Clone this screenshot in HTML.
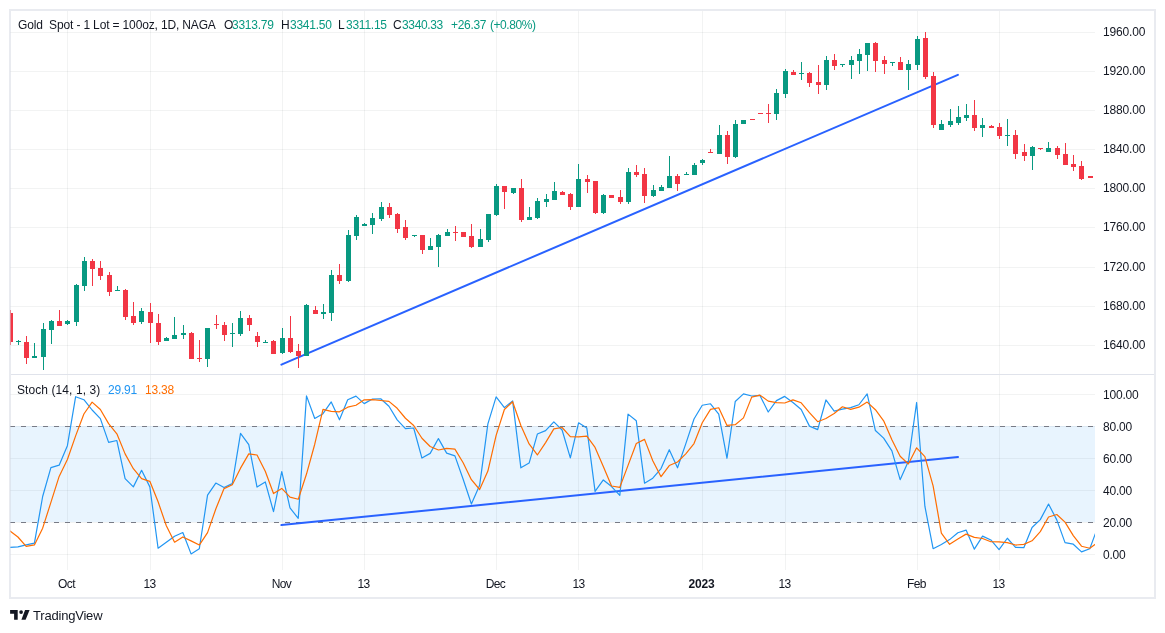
<!DOCTYPE html>
<html><head><meta charset="utf-8"><style>
html,body{margin:0;padding:0;background:#fff;}
body{width:1165px;height:633px;position:relative;overflow:hidden;font-family:"Liberation Sans",sans-serif;}
div{will-change:transform;}
</style></head><body>
<svg width="1165" height="633" viewBox="0 0 1165 633" style="position:absolute;left:0;top:0">
<defs><clipPath id="cm"><rect x="10" y="11" width="1085" height="363"/></clipPath><clipPath id="cs"><rect x="10" y="375" width="1085" height="195"/></clipPath></defs>
<g shape-rendering="crispEdges"><rect x="10" y="426" width="1085" height="96" fill="#2196F3" fill-opacity="0.1"/><rect x="10" y="32" width="1085" height="1" fill="#2A2E39" fill-opacity="0.06"/><rect x="10" y="71" width="1085" height="1" fill="#2A2E39" fill-opacity="0.06"/><rect x="10" y="110" width="1085" height="1" fill="#2A2E39" fill-opacity="0.06"/><rect x="10" y="149" width="1085" height="1" fill="#2A2E39" fill-opacity="0.06"/><rect x="10" y="188" width="1085" height="1" fill="#2A2E39" fill-opacity="0.06"/><rect x="10" y="227" width="1085" height="1" fill="#2A2E39" fill-opacity="0.06"/><rect x="10" y="267" width="1085" height="1" fill="#2A2E39" fill-opacity="0.06"/><rect x="10" y="306" width="1085" height="1" fill="#2A2E39" fill-opacity="0.06"/><rect x="10" y="345" width="1085" height="1" fill="#2A2E39" fill-opacity="0.06"/><rect x="67" y="11" width="1" height="363" fill="#2A2E39" fill-opacity="0.06"/><rect x="67" y="375" width="1" height="195" fill="#2A2E39" fill-opacity="0.06"/><rect x="150" y="11" width="1" height="363" fill="#2A2E39" fill-opacity="0.06"/><rect x="150" y="375" width="1" height="195" fill="#2A2E39" fill-opacity="0.06"/><rect x="282" y="11" width="1" height="363" fill="#2A2E39" fill-opacity="0.06"/><rect x="282" y="375" width="1" height="195" fill="#2A2E39" fill-opacity="0.06"/><rect x="364" y="11" width="1" height="363" fill="#2A2E39" fill-opacity="0.06"/><rect x="364" y="375" width="1" height="195" fill="#2A2E39" fill-opacity="0.06"/><rect x="496" y="11" width="1" height="363" fill="#2A2E39" fill-opacity="0.06"/><rect x="496" y="375" width="1" height="195" fill="#2A2E39" fill-opacity="0.06"/><rect x="578" y="11" width="1" height="363" fill="#2A2E39" fill-opacity="0.06"/><rect x="578" y="375" width="1" height="195" fill="#2A2E39" fill-opacity="0.06"/><rect x="702" y="11" width="1" height="363" fill="#2A2E39" fill-opacity="0.06"/><rect x="702" y="375" width="1" height="195" fill="#2A2E39" fill-opacity="0.06"/><rect x="785" y="11" width="1" height="363" fill="#2A2E39" fill-opacity="0.06"/><rect x="785" y="375" width="1" height="195" fill="#2A2E39" fill-opacity="0.06"/><rect x="917" y="11" width="1" height="363" fill="#2A2E39" fill-opacity="0.06"/><rect x="917" y="375" width="1" height="195" fill="#2A2E39" fill-opacity="0.06"/><rect x="999" y="11" width="1" height="363" fill="#2A2E39" fill-opacity="0.06"/><rect x="999" y="375" width="1" height="195" fill="#2A2E39" fill-opacity="0.06"/><rect x="10" y="394" width="1085" height="1" fill="#2A2E39" fill-opacity="0.06"/><rect x="10" y="426" width="1085" height="1" fill="#2A2E39" fill-opacity="0.06"/><rect x="10" y="458" width="1085" height="1" fill="#2A2E39" fill-opacity="0.06"/><rect x="10" y="490" width="1085" height="1" fill="#2A2E39" fill-opacity="0.06"/><rect x="10" y="522" width="1085" height="1" fill="#2A2E39" fill-opacity="0.06"/><rect x="10" y="554" width="1085" height="1" fill="#2A2E39" fill-opacity="0.06"/></g>
<g shape-rendering="crispEdges" stroke="#787B86" stroke-width="1" stroke-dasharray="5 6"><line x1="10" y1="426.5" x2="1095" y2="426.5"/><line x1="10" y1="522.5" x2="1095" y2="522.5"/></g>
<g stroke="#2962FF" stroke-width="2" stroke-linecap="round"><line x1="281.4" y1="364.6" x2="957.9" y2="74.8" clip-path="url(#cm)"/><line x1="281.4" y1="525.1" x2="958.0" y2="457.05"/></g>
<g clip-path="url(#cm)" shape-rendering="crispEdges"><rect x="10" y="310" width="1" height="35" fill="#F23645"/><rect x="8" y="313" width="5" height="29" fill="#F23645"/><rect x="18" y="340" width="1" height="5" fill="#089981"/><rect x="16" y="341" width="5" height="1" fill="#089981"/><rect x="26" y="336" width="1" height="28" fill="#F23645"/><rect x="24" y="342" width="5" height="16" fill="#F23645"/><rect x="34" y="343" width="1" height="15" fill="#089981"/><rect x="32" y="356" width="5" height="2" fill="#089981"/><rect x="43" y="323" width="1" height="47" fill="#089981"/><rect x="41" y="329" width="5" height="28" fill="#089981"/><rect x="51" y="320" width="1" height="24" fill="#089981"/><rect x="49" y="321" width="5" height="9" fill="#089981"/><rect x="59" y="310" width="1" height="16" fill="#F23645"/><rect x="57" y="321" width="5" height="5" fill="#F23645"/><rect x="67" y="320" width="1" height="5" fill="#089981"/><rect x="65" y="321" width="5" height="3" fill="#089981"/><rect x="76" y="284" width="1" height="42" fill="#089981"/><rect x="74" y="285" width="5" height="37" fill="#089981"/><rect x="84" y="257" width="1" height="34" fill="#089981"/><rect x="82" y="261" width="5" height="25" fill="#089981"/><rect x="92" y="259" width="1" height="27" fill="#F23645"/><rect x="90" y="261" width="5" height="8" fill="#F23645"/><rect x="100" y="261" width="1" height="19" fill="#F23645"/><rect x="98" y="268" width="5" height="8" fill="#F23645"/><rect x="109" y="272" width="1" height="24" fill="#F23645"/><rect x="107" y="275" width="5" height="17" fill="#F23645"/><rect x="117" y="286" width="1" height="5" fill="#089981"/><rect x="115" y="290" width="5" height="1" fill="#089981"/><rect x="125" y="289" width="1" height="31" fill="#F23645"/><rect x="123" y="290" width="5" height="27" fill="#F23645"/><rect x="133" y="302" width="1" height="23" fill="#F23645"/><rect x="131" y="316" width="5" height="7" fill="#F23645"/><rect x="141" y="308" width="1" height="16" fill="#089981"/><rect x="139" y="311" width="5" height="11" fill="#089981"/><rect x="150" y="303" width="1" height="40" fill="#F23645"/><rect x="148" y="312" width="5" height="11" fill="#F23645"/><rect x="158" y="314" width="1" height="31" fill="#F23645"/><rect x="156" y="323" width="5" height="19" fill="#F23645"/><rect x="166" y="337" width="1" height="4" fill="#089981"/><rect x="164" y="338" width="5" height="3" fill="#089981"/><rect x="174" y="317" width="1" height="22" fill="#089981"/><rect x="172" y="335" width="5" height="4" fill="#089981"/><rect x="183" y="325" width="1" height="14" fill="#089981"/><rect x="181" y="333" width="5" height="2" fill="#089981"/><rect x="191" y="332" width="1" height="27" fill="#F23645"/><rect x="189" y="333" width="5" height="26" fill="#F23645"/><rect x="199" y="340" width="1" height="22" fill="#F23645"/><rect x="197" y="358" width="5" height="1" fill="#F23645"/><rect x="207" y="328" width="1" height="39" fill="#089981"/><rect x="205" y="328" width="5" height="31" fill="#089981"/><rect x="216" y="315" width="1" height="14" fill="#F23645"/><rect x="214" y="324" width="5" height="1" fill="#F23645"/><rect x="224" y="322" width="1" height="19" fill="#F23645"/><rect x="222" y="325" width="5" height="10" fill="#F23645"/><rect x="232" y="323" width="1" height="24" fill="#089981"/><rect x="230" y="333" width="5" height="1" fill="#089981"/><rect x="240" y="311" width="1" height="25" fill="#089981"/><rect x="238" y="318" width="5" height="16" fill="#089981"/><rect x="249" y="315" width="1" height="16" fill="#F23645"/><rect x="247" y="318" width="5" height="7" fill="#F23645"/><rect x="257" y="332" width="1" height="15" fill="#F23645"/><rect x="255" y="336" width="5" height="6" fill="#F23645"/><rect x="265" y="340" width="1" height="3" fill="#089981"/><rect x="263" y="342" width="5" height="1" fill="#089981"/><rect x="273" y="340" width="1" height="14" fill="#F23645"/><rect x="271" y="341" width="5" height="13" fill="#F23645"/><rect x="282" y="328" width="1" height="26" fill="#089981"/><rect x="280" y="338" width="5" height="15" fill="#089981"/><rect x="290" y="316" width="1" height="37" fill="#F23645"/><rect x="288" y="338" width="5" height="14" fill="#F23645"/><rect x="298" y="344" width="1" height="24" fill="#F23645"/><rect x="296" y="351" width="5" height="5" fill="#F23645"/><rect x="306" y="304" width="1" height="52" fill="#089981"/><rect x="304" y="305" width="5" height="51" fill="#089981"/><rect x="315" y="306" width="1" height="8" fill="#F23645"/><rect x="313" y="310" width="5" height="4" fill="#F23645"/><rect x="323" y="304" width="1" height="15" fill="#089981"/><rect x="321" y="312" width="5" height="2" fill="#089981"/><rect x="331" y="270" width="1" height="51" fill="#089981"/><rect x="329" y="275" width="5" height="38" fill="#089981"/><rect x="339" y="264" width="1" height="20" fill="#F23645"/><rect x="337" y="275" width="5" height="6" fill="#F23645"/><rect x="348" y="230" width="1" height="52" fill="#089981"/><rect x="346" y="235" width="5" height="46" fill="#089981"/><rect x="356" y="215" width="1" height="25" fill="#089981"/><rect x="354" y="217" width="5" height="19" fill="#089981"/><rect x="364" y="223" width="1" height="3" fill="#089981"/><rect x="362" y="224" width="5" height="2" fill="#089981"/><rect x="372" y="213" width="1" height="21" fill="#089981"/><rect x="370" y="218" width="5" height="7" fill="#089981"/><rect x="381" y="202" width="1" height="19" fill="#089981"/><rect x="379" y="207" width="5" height="12" fill="#089981"/><rect x="389" y="203" width="1" height="15" fill="#F23645"/><rect x="387" y="207" width="5" height="8" fill="#F23645"/><rect x="397" y="213" width="1" height="20" fill="#F23645"/><rect x="395" y="214" width="5" height="15" fill="#F23645"/><rect x="405" y="220" width="1" height="20" fill="#F23645"/><rect x="403" y="227" width="5" height="11" fill="#F23645"/><rect x="414" y="235" width="1" height="2" fill="#089981"/><rect x="412" y="235" width="5" height="1" fill="#089981"/><rect x="422" y="235" width="1" height="19" fill="#F23645"/><rect x="420" y="235" width="5" height="15" fill="#F23645"/><rect x="430" y="238" width="1" height="12" fill="#089981"/><rect x="428" y="246" width="5" height="4" fill="#089981"/><rect x="438" y="234" width="1" height="33" fill="#089981"/><rect x="436" y="235" width="5" height="12" fill="#089981"/><rect x="447" y="229" width="1" height="7" fill="#089981"/><rect x="445" y="232" width="5" height="4" fill="#089981"/><rect x="455" y="226" width="1" height="15" fill="#F23645"/><rect x="453" y="232" width="5" height="1" fill="#F23645"/><rect x="463" y="232" width="1" height="5" fill="#F23645"/><rect x="461" y="232" width="5" height="5" fill="#F23645"/><rect x="471" y="224" width="1" height="24" fill="#F23645"/><rect x="469" y="236" width="5" height="11" fill="#F23645"/><rect x="480" y="229" width="1" height="18" fill="#089981"/><rect x="478" y="239" width="5" height="8" fill="#089981"/><rect x="488" y="214" width="1" height="28" fill="#089981"/><rect x="486" y="214" width="5" height="26" fill="#089981"/><rect x="496" y="184" width="1" height="32" fill="#089981"/><rect x="494" y="186" width="5" height="29" fill="#089981"/><rect x="504" y="186" width="1" height="23" fill="#F23645"/><rect x="502" y="186" width="5" height="6" fill="#F23645"/><rect x="513" y="188" width="1" height="6" fill="#089981"/><rect x="511" y="188" width="5" height="5" fill="#089981"/><rect x="521" y="179" width="1" height="43" fill="#F23645"/><rect x="519" y="188" width="5" height="32" fill="#F23645"/><rect x="529" y="207" width="1" height="13" fill="#089981"/><rect x="527" y="217" width="5" height="3" fill="#089981"/><rect x="537" y="198" width="1" height="21" fill="#089981"/><rect x="535" y="201" width="5" height="17" fill="#089981"/><rect x="546" y="194" width="1" height="13" fill="#089981"/><rect x="544" y="199" width="5" height="3" fill="#089981"/><rect x="554" y="182" width="1" height="18" fill="#089981"/><rect x="552" y="191" width="5" height="9" fill="#089981"/><rect x="562" y="191" width="1" height="4" fill="#F23645"/><rect x="560" y="192" width="5" height="3" fill="#F23645"/><rect x="570" y="193" width="1" height="17" fill="#F23645"/><rect x="568" y="194" width="5" height="13" fill="#F23645"/><rect x="578" y="164" width="1" height="43" fill="#089981"/><rect x="576" y="179" width="5" height="28" fill="#089981"/><rect x="587" y="175" width="1" height="18" fill="#F23645"/><rect x="585" y="179" width="5" height="3" fill="#F23645"/><rect x="595" y="181" width="1" height="33" fill="#F23645"/><rect x="593" y="181" width="5" height="32" fill="#F23645"/><rect x="603" y="194" width="1" height="20" fill="#089981"/><rect x="601" y="195" width="5" height="18" fill="#089981"/><rect x="611" y="195" width="1" height="3" fill="#F23645"/><rect x="609" y="195" width="5" height="3" fill="#F23645"/><rect x="620" y="190" width="1" height="14" fill="#F23645"/><rect x="618" y="197" width="5" height="5" fill="#F23645"/><rect x="628" y="168" width="1" height="36" fill="#089981"/><rect x="626" y="172" width="5" height="30" fill="#089981"/><rect x="636" y="165" width="1" height="12" fill="#F23645"/><rect x="634" y="172" width="5" height="3" fill="#F23645"/><rect x="644" y="168" width="1" height="35" fill="#F23645"/><rect x="642" y="174" width="5" height="22" fill="#F23645"/><rect x="653" y="185" width="1" height="12" fill="#089981"/><rect x="651" y="190" width="5" height="6" fill="#089981"/><rect x="661" y="185" width="1" height="6" fill="#089981"/><rect x="659" y="187" width="5" height="4" fill="#089981"/><rect x="669" y="156" width="1" height="32" fill="#089981"/><rect x="667" y="176" width="5" height="12" fill="#089981"/><rect x="677" y="174" width="1" height="17" fill="#F23645"/><rect x="675" y="176" width="5" height="8" fill="#F23645"/><rect x="686" y="172" width="1" height="3" fill="#089981"/><rect x="684" y="174" width="5" height="1" fill="#089981"/><rect x="694" y="163" width="1" height="12" fill="#089981"/><rect x="692" y="165" width="5" height="10" fill="#089981"/><rect x="702" y="159" width="1" height="6" fill="#089981"/><rect x="700" y="160" width="5" height="3" fill="#089981"/><rect x="710" y="149" width="1" height="4" fill="#F23645"/><rect x="708" y="152" width="5" height="1" fill="#F23645"/><rect x="719" y="125" width="1" height="29" fill="#089981"/><rect x="717" y="135" width="5" height="19" fill="#089981"/><rect x="727" y="131" width="1" height="33" fill="#F23645"/><rect x="725" y="135" width="5" height="22" fill="#F23645"/><rect x="735" y="120" width="1" height="38" fill="#089981"/><rect x="733" y="124" width="5" height="33" fill="#089981"/><rect x="743" y="120" width="1" height="4" fill="#089981"/><rect x="741" y="120" width="5" height="4" fill="#089981"/><rect x="752" y="119" width="1" height="1" fill="#F23645"/><rect x="750" y="119" width="5" height="1" fill="#F23645"/><rect x="760" y="113" width="1" height="1" fill="#F23645"/><rect x="758" y="113" width="5" height="1" fill="#F23645"/><rect x="768" y="104" width="1" height="19" fill="#F23645"/><rect x="766" y="113" width="5" height="1" fill="#F23645"/><rect x="776" y="89" width="1" height="31" fill="#089981"/><rect x="774" y="93" width="5" height="21" fill="#089981"/><rect x="785" y="69" width="1" height="29" fill="#089981"/><rect x="783" y="71" width="5" height="23" fill="#089981"/><rect x="793" y="70" width="1" height="5" fill="#F23645"/><rect x="791" y="72" width="5" height="3" fill="#F23645"/><rect x="801" y="62" width="1" height="18" fill="#089981"/><rect x="799" y="73" width="5" height="1" fill="#089981"/><rect x="809" y="72" width="1" height="15" fill="#F23645"/><rect x="807" y="73" width="5" height="10" fill="#F23645"/><rect x="818" y="65" width="1" height="29" fill="#F23645"/><rect x="816" y="82" width="5" height="3" fill="#F23645"/><rect x="826" y="56" width="1" height="34" fill="#089981"/><rect x="824" y="60" width="5" height="25" fill="#089981"/><rect x="834" y="54" width="1" height="16" fill="#F23645"/><rect x="832" y="60" width="5" height="6" fill="#F23645"/><rect x="842" y="64" width="1" height="3" fill="#089981"/><rect x="840" y="64" width="5" height="1" fill="#089981"/><rect x="851" y="56" width="1" height="23" fill="#089981"/><rect x="849" y="60" width="5" height="5" fill="#089981"/><rect x="859" y="49" width="1" height="25" fill="#089981"/><rect x="857" y="54" width="5" height="7" fill="#089981"/><rect x="867" y="43" width="1" height="28" fill="#089981"/><rect x="865" y="43" width="5" height="12" fill="#089981"/><rect x="875" y="42" width="1" height="30" fill="#F23645"/><rect x="873" y="43" width="5" height="18" fill="#F23645"/><rect x="884" y="56" width="1" height="18" fill="#F23645"/><rect x="882" y="60" width="5" height="4" fill="#F23645"/><rect x="892" y="62" width="1" height="4" fill="#089981"/><rect x="890" y="62" width="5" height="1" fill="#089981"/><rect x="900" y="57" width="1" height="13" fill="#F23645"/><rect x="898" y="62" width="5" height="8" fill="#F23645"/><rect x="908" y="60" width="1" height="30" fill="#089981"/><rect x="906" y="64" width="5" height="6" fill="#089981"/><rect x="917" y="36" width="1" height="34" fill="#089981"/><rect x="915" y="39" width="5" height="26" fill="#089981"/><rect x="925" y="32" width="1" height="47" fill="#F23645"/><rect x="923" y="38" width="5" height="39" fill="#F23645"/><rect x="933" y="72" width="1" height="56" fill="#F23645"/><rect x="931" y="76" width="5" height="49" fill="#F23645"/><rect x="941" y="120" width="1" height="10" fill="#089981"/><rect x="939" y="124" width="5" height="6" fill="#089981"/><rect x="950" y="109" width="1" height="18" fill="#089981"/><rect x="948" y="121" width="5" height="4" fill="#089981"/><rect x="958" y="106" width="1" height="19" fill="#089981"/><rect x="956" y="117" width="5" height="6" fill="#089981"/><rect x="966" y="104" width="1" height="17" fill="#089981"/><rect x="964" y="115" width="5" height="3" fill="#089981"/><rect x="974" y="100" width="1" height="31" fill="#F23645"/><rect x="972" y="115" width="5" height="13" fill="#F23645"/><rect x="982" y="118" width="1" height="19" fill="#089981"/><rect x="980" y="125" width="5" height="3" fill="#089981"/><rect x="991" y="125" width="1" height="3" fill="#F23645"/><rect x="989" y="126" width="5" height="2" fill="#F23645"/><rect x="999" y="123" width="1" height="16" fill="#F23645"/><rect x="997" y="127" width="5" height="9" fill="#F23645"/><rect x="1007" y="119" width="1" height="27" fill="#089981"/><rect x="1005" y="135" width="5" height="1" fill="#089981"/><rect x="1015" y="130" width="1" height="29" fill="#F23645"/><rect x="1013" y="135" width="5" height="19" fill="#F23645"/><rect x="1024" y="144" width="1" height="17" fill="#F23645"/><rect x="1022" y="152" width="5" height="4" fill="#F23645"/><rect x="1032" y="146" width="1" height="24" fill="#089981"/><rect x="1030" y="147" width="5" height="9" fill="#089981"/><rect x="1040" y="148" width="1" height="2" fill="#F23645"/><rect x="1038" y="148" width="5" height="1" fill="#F23645"/><rect x="1048" y="142" width="1" height="10" fill="#089981"/><rect x="1046" y="148" width="5" height="4" fill="#089981"/><rect x="1057" y="146" width="1" height="13" fill="#F23645"/><rect x="1055" y="148" width="5" height="7" fill="#F23645"/><rect x="1065" y="143" width="1" height="22" fill="#F23645"/><rect x="1063" y="154" width="5" height="11" fill="#F23645"/><rect x="1073" y="155" width="1" height="16" fill="#F23645"/><rect x="1071" y="164" width="5" height="3" fill="#F23645"/><rect x="1081" y="161" width="1" height="19" fill="#F23645"/><rect x="1079" y="166" width="5" height="13" fill="#F23645"/><rect x="1090" y="176" width="1" height="2" fill="#F23645"/><rect x="1088" y="176" width="5" height="2" fill="#F23645"/></g>
<g clip-path="url(#cs)" fill="none" stroke-width="1.2" stroke-linejoin="round"><polyline points="9.68,547.50 17.92,546.80 26.17,544.80 34.41,543.20 42.66,496.50 50.90,467.60 59.15,465.20 67.39,445.70 75.64,396.70 83.88,399.70 92.12,410.00 100.37,418.60 108.61,442.40 116.86,440.53 125.10,478.65 133.35,486.87 141.59,470.29 149.84,486.87 158.09,548.24 166.33,542.21 174.57,536.18 182.82,532.53 191.06,553.90 199.31,548.77 207.55,495.18 215.80,483.09 224.04,487.50 232.29,483.59 240.53,433.35 248.78,444.60 257.03,487.10 265.27,481.93 273.51,511.70 281.76,471.61 290.00,507.90 298.25,518.30 306.50,395.91 314.74,418.48 322.99,413.71 331.23,401.92 339.48,419.82 347.72,399.82 355.97,396.10 364.21,403.64 372.46,399.07 380.70,398.73 388.94,406.25 397.19,419.86 405.44,428.64 413.68,428.02 421.93,458.09 430.17,453.38 438.42,438.58 446.66,453.09 454.91,455.85 463.15,479.18 471.39,504.01 479.64,485.33 487.88,423.88 496.13,396.81 504.38,407.65 512.62,400.87 520.87,467.82 529.11,463.09 537.36,434.04 545.60,430.59 553.84,421.92 562.09,430.02 570.33,457.81 578.58,422.78 586.82,428.06 595.07,491.40 603.31,479.97 611.56,486.59 619.80,495.40 628.05,414.10 636.29,420.80 644.54,483.20 652.78,478.23 661.03,468.61 669.27,449.72 677.52,467.80 685.76,443.92 694.01,419.05 702.25,405.23 710.50,403.76 718.74,414.20 726.99,458.27 735.23,401.54 743.48,393.90 751.72,396.00 759.97,395.43 768.21,412.01 776.46,400.65 784.70,396.40 792.95,402.52 801.19,409.48 809.44,426.12 817.68,429.58 825.93,399.98 834.17,411.09 842.42,409.16 850.66,407.67 858.91,404.75 867.15,393.90 875.40,430.52 883.64,438.14 891.89,450.90 900.13,479.65 908.38,461.32 916.62,402.47 924.87,506.20 933.11,548.71 941.36,544.54 949.60,539.61 957.85,532.71 966.09,530.08 974.34,549.18 982.58,536.14 990.83,539.97 999.07,549.54 1007.32,538.24 1015.56,547.33 1023.81,547.68 1032.05,527.47 1040.30,519.64 1048.54,504.01 1056.79,519.88 1065.03,542.64 1073.28,544.20 1081.52,551.89 1089.77,548.72 1098.01,526.54" stroke="#2196F3"/><polyline points="9.68,530.70 17.92,537.00 26.17,546.37 34.41,544.93 42.66,528.17 50.90,502.43 59.15,476.43 67.39,459.50 75.64,435.87 83.88,414.03 92.12,402.13 100.37,409.43 108.61,423.67 116.86,433.84 125.10,453.86 133.35,468.68 141.59,478.60 149.84,481.34 158.09,501.80 166.33,525.77 174.57,542.21 182.82,536.97 191.06,540.87 199.31,545.07 207.55,532.62 215.80,509.01 224.04,488.59 232.29,484.73 240.53,468.15 248.78,453.85 257.03,455.02 265.27,471.21 273.51,493.58 281.76,488.41 290.00,497.07 298.25,499.27 306.50,474.04 314.74,444.23 322.99,409.36 331.23,411.37 339.48,411.82 347.72,407.19 355.97,405.25 364.21,399.85 372.46,399.60 380.70,400.48 388.94,401.35 397.19,408.28 405.44,418.25 413.68,425.51 421.93,438.25 430.17,446.50 438.42,450.01 446.66,448.35 454.91,449.18 463.15,462.71 471.39,479.68 479.64,489.51 487.88,471.07 496.13,435.34 504.38,409.45 512.62,401.78 520.87,425.45 529.11,443.93 537.36,454.98 545.60,442.57 553.84,428.85 562.09,427.51 570.33,436.58 578.58,436.87 586.82,436.22 595.07,447.42 603.31,466.48 611.56,485.99 619.80,487.32 628.05,465.36 636.29,443.43 644.54,439.37 652.78,460.74 661.03,476.68 669.27,465.52 677.52,462.04 685.76,453.81 694.01,443.59 702.25,422.73 710.50,409.35 718.74,407.73 726.99,425.41 735.23,424.67 743.48,417.90 751.72,397.14 759.97,395.11 768.21,401.14 776.46,402.70 784.70,403.02 792.95,399.86 801.19,402.80 809.44,412.70 817.68,421.72 825.93,418.56 834.17,413.55 842.42,406.74 850.66,409.31 858.91,407.20 867.15,402.11 875.40,409.72 883.64,420.85 891.89,439.85 900.13,456.23 908.38,463.95 916.62,447.81 924.87,456.66 933.11,485.79 941.36,533.15 949.60,544.28 957.85,538.95 966.09,534.13 974.34,537.32 982.58,538.47 990.83,541.76 999.07,541.88 1007.32,542.58 1015.56,545.04 1023.81,544.42 1032.05,540.82 1040.30,531.59 1048.54,517.04 1056.79,514.51 1065.03,522.18 1073.28,535.57 1081.52,546.24 1089.77,548.27 1098.01,542.38" stroke="#FF6D00"/></g>
<g shape-rendering="crispEdges"><rect x="11" y="374" width="1143" height="1" fill="#E0E3EB"/><rect x="9" y="9" width="1147" height="2" fill="#E9EBF0"/><rect x="9" y="597" width="1147" height="2" fill="#E9EBF0"/><rect x="9" y="9" width="1" height="590" fill="#E9EBF0"/><rect x="10" y="11" width="1" height="586" fill="#D3D7E1" fill-opacity="0.5"/><rect x="1154" y="9" width="2" height="590" fill="#E9EBF0"/></g>
<g fill="#131722"><path d="M10.1 610.1H17.7V619.7H14.1V613.7H10.1Z"/><circle cx="21.1" cy="612.1" r="1.85"/><path d="M25.1 610.1H29.6L25.6 619.7H21.4Z"/></g>
</svg>
<div style="position:absolute;left:18.00px;top:18.85px;font-size:12px;color:#131722;white-space:pre;line-height:1;letter-spacing:-0.15px">Gold  Spot - 1 Lot = 100oz, 1D, NAGA</div><div style="position:absolute;left:223.60px;top:18.85px;font-size:12px;color:#131722;white-space:pre;line-height:1;letter-spacing:0px">O</div><div style="position:absolute;left:232.30px;top:18.85px;font-size:12px;color:#089981;white-space:pre;line-height:1;letter-spacing:-0.25px">3313.79</div><div style="position:absolute;left:281.20px;top:18.85px;font-size:12px;color:#131722;white-space:pre;line-height:1;letter-spacing:0px">H</div><div style="position:absolute;left:289.50px;top:18.85px;font-size:12px;color:#089981;white-space:pre;line-height:1;letter-spacing:-0.25px">3341.50</div><div style="position:absolute;left:338.30px;top:18.85px;font-size:12px;color:#131722;white-space:pre;line-height:1;letter-spacing:0px">L</div><div style="position:absolute;left:345.50px;top:18.85px;font-size:12px;color:#089981;white-space:pre;line-height:1;letter-spacing:-0.25px">3311.15</div><div style="position:absolute;left:393.40px;top:18.85px;font-size:12px;color:#131722;white-space:pre;line-height:1;letter-spacing:0px">C</div><div style="position:absolute;left:402.00px;top:18.85px;font-size:12px;color:#089981;white-space:pre;line-height:1;letter-spacing:-0.35px">3340.33</div><div style="position:absolute;left:451.00px;top:18.85px;font-size:12px;color:#089981;white-space:pre;line-height:1;letter-spacing:-0.3px">+26.37</div><div style="position:absolute;left:490.00px;top:18.85px;font-size:12px;color:#089981;white-space:pre;line-height:1;letter-spacing:-0.45px">(+0.80%)</div><div style="position:absolute;left:17.30px;top:383.65px;font-size:12px;color:#131722;white-space:pre;line-height:1;letter-spacing:0.08px">Stoch (14, 1, 3)</div><div style="position:absolute;left:107.90px;top:383.65px;font-size:12px;color:#2196F3;white-space:pre;line-height:1;letter-spacing:-0.2px">29.91</div><div style="position:absolute;left:145.00px;top:383.65px;font-size:12px;color:#FF6D00;white-space:pre;line-height:1;letter-spacing:-0.2px">13.38</div><div style="position:absolute;left:1103.2px;top:26px;font-size:12px;color:#131722;white-space:pre;line-height:1;letter-spacing:-0.15px">1960.00</div><div style="position:absolute;left:1103.2px;top:65px;font-size:12px;color:#131722;white-space:pre;line-height:1;letter-spacing:-0.15px">1920.00</div><div style="position:absolute;left:1103.2px;top:104px;font-size:12px;color:#131722;white-space:pre;line-height:1;letter-spacing:-0.15px">1880.00</div><div style="position:absolute;left:1103.2px;top:143px;font-size:12px;color:#131722;white-space:pre;line-height:1;letter-spacing:-0.15px">1840.00</div><div style="position:absolute;left:1103.2px;top:182px;font-size:12px;color:#131722;white-space:pre;line-height:1;letter-spacing:-0.15px">1800.00</div><div style="position:absolute;left:1103.2px;top:221px;font-size:12px;color:#131722;white-space:pre;line-height:1;letter-spacing:-0.15px">1760.00</div><div style="position:absolute;left:1103.2px;top:261px;font-size:12px;color:#131722;white-space:pre;line-height:1;letter-spacing:-0.15px">1720.00</div><div style="position:absolute;left:1103.2px;top:300px;font-size:12px;color:#131722;white-space:pre;line-height:1;letter-spacing:-0.15px">1680.00</div><div style="position:absolute;left:1103.2px;top:339px;font-size:12px;color:#131722;white-space:pre;line-height:1;letter-spacing:-0.15px">1640.00</div><div style="position:absolute;left:1103.2px;top:389px;font-size:12px;color:#131722;white-space:pre;line-height:1;letter-spacing:-0.2px">100.00</div><div style="position:absolute;left:1103.2px;top:421px;font-size:12px;color:#131722;white-space:pre;line-height:1;letter-spacing:-0.2px">80.00</div><div style="position:absolute;left:1103.2px;top:453px;font-size:12px;color:#131722;white-space:pre;line-height:1;letter-spacing:-0.2px">60.00</div><div style="position:absolute;left:1103.2px;top:485px;font-size:12px;color:#131722;white-space:pre;line-height:1;letter-spacing:-0.2px">40.00</div><div style="position:absolute;left:1103.2px;top:517px;font-size:12px;color:#131722;white-space:pre;line-height:1;letter-spacing:-0.2px">20.00</div><div style="position:absolute;left:1103.2px;top:549px;font-size:12px;color:#131722;white-space:pre;line-height:1;letter-spacing:-0.2px">0.00</div><div style="position:absolute;left:25.70px;width:81px;text-align:center;top:578px;font-size:12px;color:#131722;line-height:1;letter-spacing:-0.6px;">Oct</div><div style="position:absolute;left:108.70px;width:81px;text-align:center;top:578px;font-size:12px;color:#131722;line-height:1;letter-spacing:-0.6px;">13</div><div style="position:absolute;left:240.70px;width:81px;text-align:center;top:578px;font-size:12px;color:#131722;line-height:1;letter-spacing:-0.6px;">Nov</div><div style="position:absolute;left:322.70px;width:81px;text-align:center;top:578px;font-size:12px;color:#131722;line-height:1;letter-spacing:-0.6px;">13</div><div style="position:absolute;left:454.70px;width:81px;text-align:center;top:578px;font-size:12px;color:#131722;line-height:1;letter-spacing:-0.6px;">Dec</div><div style="position:absolute;left:537.70px;width:81px;text-align:center;top:578px;font-size:12px;color:#131722;line-height:1;letter-spacing:-0.6px;">13</div><div style="position:absolute;left:661.40px;width:81px;text-align:center;top:578px;font-size:12px;color:#131722;line-height:1;letter-spacing:-0.2px;font-weight:bold;">2023</div><div style="position:absolute;left:743.70px;width:81px;text-align:center;top:578px;font-size:12px;color:#131722;line-height:1;letter-spacing:-0.6px;">13</div><div style="position:absolute;left:875.70px;width:81px;text-align:center;top:578px;font-size:12px;color:#131722;line-height:1;letter-spacing:-0.6px;">Feb</div><div style="position:absolute;left:957.70px;width:81px;text-align:center;top:578px;font-size:12px;color:#131722;line-height:1;letter-spacing:-0.6px;">13</div><div style="position:absolute;left:33px;top:609px;font-size:13px;color:#131722;white-space:pre;line-height:1;letter-spacing:-0.2px">TradingView</div>
</body></html>
